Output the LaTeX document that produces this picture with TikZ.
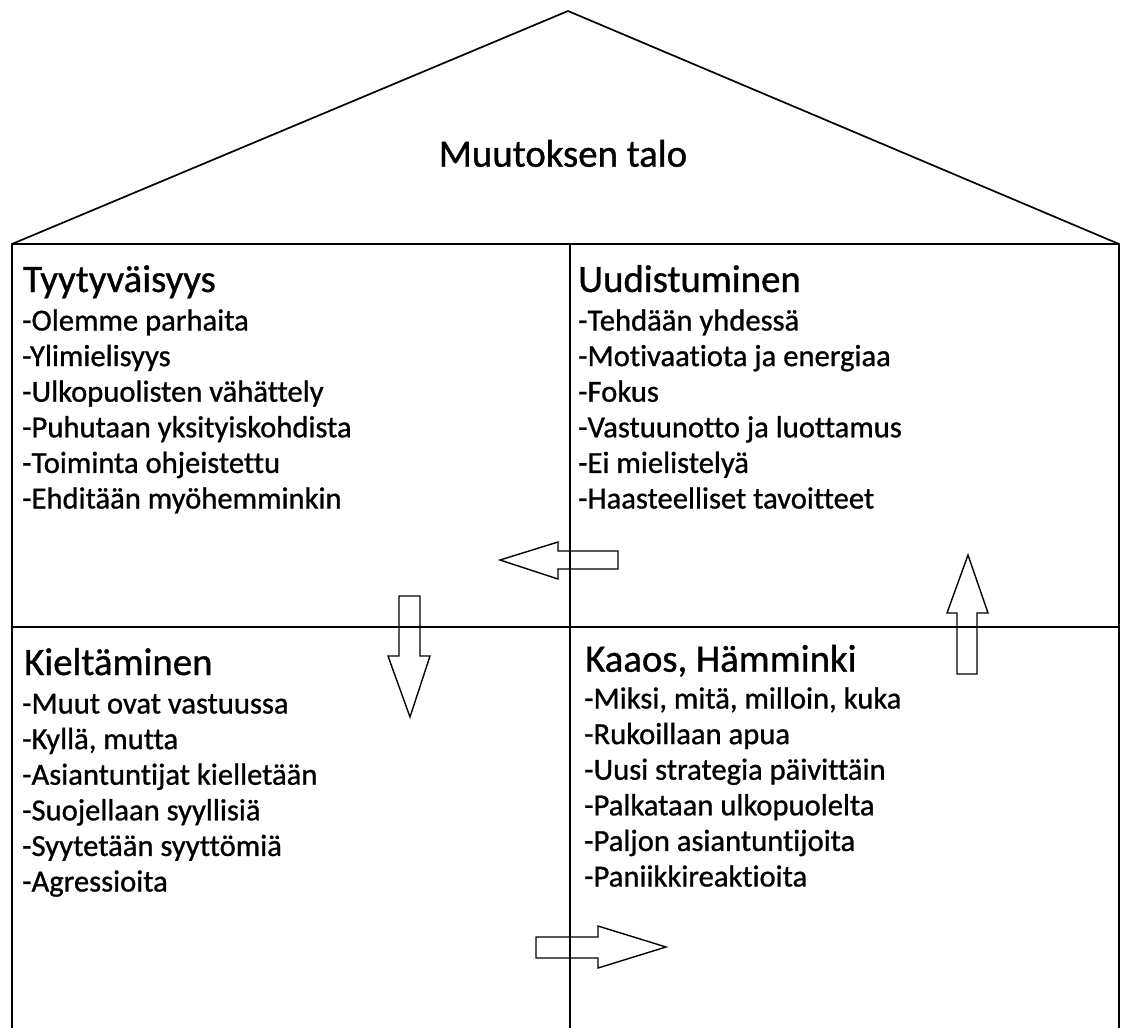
\documentclass[tikz,border=0pt]{standalone}
\usepackage{fontspec}
\setmainfont{Carlito}[Ligatures=NoCommon, AutoFakeBold=0.9]
\begin{document}
\begin{tikzpicture}[x=1pt,y=-1pt]
\tikzset{
  wall/.style={line width=1.7pt, draw=black, line join=miter},
  blockarrow/.style={line width=1.4pt, draw=black, line join=miter},
  qtitle/.style={anchor=base west, inner sep=0pt, font=\fontsize{38.8}{40}\selectfont\bfseries},
  qitem/.style={anchor=base west, inner sep=0pt, font=\fontsize{30.6}{34}\selectfont\bfseries}
}
\useasboundingbox (0,0) rectangle (1122,1028);
% house outline
\coordinate (apex) at (568,11);
\coordinate (eL) at (12,244);
\coordinate (eR) at (1119,244);
\coordinate (bL) at (12,1028);
\coordinate (bR) at (1119,1028);
\coordinate (vT) at (570,244);
\coordinate (vB) at (570,1028);
\coordinate (hL) at (12,627);
\coordinate (hR) at (1119,627);
\draw[wall] (bL) -- (eL) -- (apex) -- (eR) -- (bR);
\draw[wall, line width=2.2pt] (eL) -- (eR);
\draw[wall] (vT) -- (vB);
\draw[wall] (hL) -- (hR);
% roof title
\node[qtitle, anchor=base] (house) at (563,166.7) {Muutoksen talo};
% quadrant titles
\node[qtitle] (tTL) at (23,292) {Tyytyväisyys};
\node[qtitle] (tTR) at (578,292) {Uudistuminen};
\node[qtitle] (tBL) at (24,675) {Kieltäminen};
\node[qtitle] (tBR) at (585,671.7) {Kaaos, Hämminki};
% items
\foreach \t [count=\i] in {Olemme parhaita, Ylimielisyys, Ulkopuolisten vähättely, Puhutaan yksityiskohdista, Toiminta ohjeistettu, Ehditään myöhemminkin}
  \node[qitem] (iTL\i) at (22,{330.5+35.6*(\i-1)}) {-\t};
\foreach \t [count=\i] in {Tehdään yhdessä, Motivaatiota ja energiaa, Fokus, Vastuunotto ja luottamus, Ei mielistelyä, Haasteelliset tavoitteet}
  \node[qitem] (iTR\i) at (578,{330.5+35.6*(\i-1)}) {-\t};
\foreach \t [count=\i] in {Muut ovat vastuussa, {Kyllä, mutta}, Asiantuntijat kielletään, Suojellaan syyllisiä, Syytetään syyttömiä, Agressioita}
  \node[qitem] (iBL\i) at (22,{713.5+35.6*(\i-1)}) {-\t};
\foreach \t [count=\i] in {{Miksi, mitä, milloin, kuka}, Rukoillaan apua, Uusi strategia päivittäin, Palkataan ulkopuolelta, Paljon asiantuntijoita, Paniikkireaktioita}
  \node[qitem] (iBR\i) at (584,{708.5+35.6*(\i-1)}) {-\t};
% block arrows
\draw[blockarrow] (500,560) -- (558,542) -- (558,551) -- (618,551) -- (618,569) -- (558,569) -- (558,579) -- cycle;
\draw[blockarrow] (410,717) -- (388,656) -- (399,656) -- (399,596) -- (420,596) -- (420,656) -- (430,656) -- cycle;
\draw[blockarrow] (968,555) -- (947,613) -- (957,613) -- (957,674) -- (977,674) -- (977,613) -- (988,613) -- cycle;
\draw[blockarrow] (666,947) -- (598,926) -- (598,937) -- (536,937) -- (536,958) -- (598,958) -- (598,968) -- cycle;
\end{tikzpicture}
\end{document}
